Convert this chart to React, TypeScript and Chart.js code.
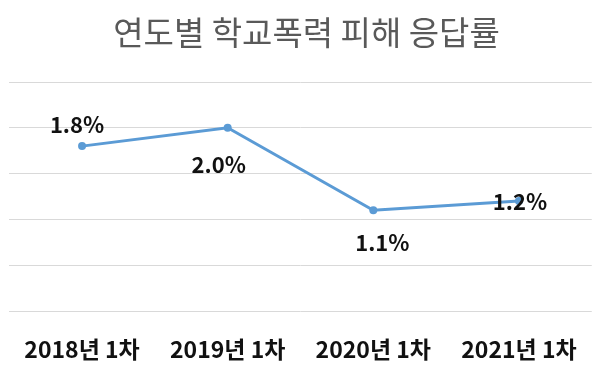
import React, { useEffect, useRef } from "react";
import { Chart, registerables } from "chart.js";

Chart.register(...registerables);

const TITLE = "연도별 학교폭력 피해 응답률";
const categories = ["2018년 1차", "2019년 1차", "2020년 1차", "2021년 1차"];
const rates = [1.8, 2.0, 1.1, 1.2];
const yTicks = { min: 0, max: 2.5, step: 0.5 };
// label placement relative to each point (dx, dy)
const labelOffsets = [
  [-5, -21],
  [-9, 37],
  [9, 32],
  [1, 1],
];

const FONT = "'Noto Sans CJK KR', 'Noto Sans', sans-serif";

const valueLabels = {
  id: "valueLabels",
  afterDatasetsDraw(chart: any) {
    const meta = chart.getDatasetMeta(0);
    const ctx = chart.ctx;
    ctx.save();
    ctx.font = `bold 22px ${FONT}`;
    ctx.fillStyle = "#111111";
    ctx.textAlign = "center";
    ctx.textBaseline = "middle";
    meta.data.forEach((pt: any, i: number) => {
      const [dx, dy] = labelOffsets[i];
      ctx.fillText(rates[i].toFixed(1) + "%", pt.x + dx, pt.y + dy);
    });
    ctx.restore();
  },
};

export default function App() {
  const ref = useRef<HTMLCanvasElement | null>(null);
  useEffect(() => {
    if (!ref.current) return;
    const chart = new Chart(ref.current, {
      type: "line",
      data: {
        labels: categories,
        datasets: [
          {
            data: rates,
            borderColor: "#5b9bd5",
            backgroundColor: "#5b9bd5",
            borderWidth: 3,
            pointRadius: 4,
            pointBackgroundColor: "#5b9bd5",
            pointBorderWidth: 0,
            tension: 0,
          },
        ],
      },
      options: {
        animation: false,
        responsive: false,
        maintainAspectRatio: false,
        layout: { padding: { left: 8, right: -4, top: 0, bottom: 8 } },
        plugins: {
          legend: { display: false },
          tooltip: { enabled: false },
          title: {
            display: true,
            text: TITLE,
            color: "#595959",
            font: { family: FONT, size: 33, weight: "normal" },
            padding: { top: 13, bottom: 29.4 },
          },
        },
        scales: {
          x: {
            offset: true,
            afterFit: (axis: any) => {
              axis.height = 52;
            },
            grid: { display: false, drawTicks: false },
            border: { display: false },
            ticks: {
              color: "#111111",
              font: { family: FONT, size: 23, weight: "bold" },
              padding: 24,
              maxRotation: 0,
              autoSkip: false,
            },
          },
          y: {
            min: yTicks.min,
            max: yTicks.max,
            afterFit: (axis: any) => {
              axis.width = 0;
            },
            grid: { color: "#d9d9d9", lineWidth: 1, drawTicks: false },
            border: { display: false },
            ticks: { display: false, stepSize: yTicks.step },
          },
        },
      },
      plugins: [valueLabels],
    });
    return () => chart.destroy();
  }, []);
  return (
    <div style={{ position: "absolute", left: 0, top: 0, width: 601, height: 371, background: "#fff" }}>
      <canvas ref={ref} width={601} height={371} style={{ display: "block" }} />
    </div>
  );
}
